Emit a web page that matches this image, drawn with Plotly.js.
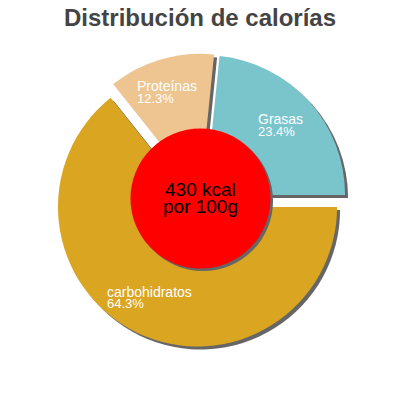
<!DOCTYPE html>
<html>
<head>
<meta charset="utf-8">
<script src="https://cdn.plot.ly/plotly-3.0.1.min.js"></script>
<style>
html,body{margin:0;padding:0;background:#fff;}
#chart{width:400px;height:400px;}
</style>
</head>
<body>
<div id="chart"></div>
<script>
// ---- data ----
const titleText = 'Distribución de calorías';
const labels = ['Grasas', 'carbohidratos', 'Proteínas'];
const percents = [23.4, 64.3, 12.3];
const kcalValue = 430;
const centerLines = [kcalValue + ' kcal', 'por 100g'];

// ---- styling ----
const sliceColors = ['#7AC4CC', '#DAA520', '#EEC591'];
const shadowColor = '#666666';
const pulls = [0.038, 0.067, 0.039];
const W = 400, H = 400;
const px = v => v / W;
const py = v => 1 - v / H;

// main pie geometry (pixels)
const pieCx = 201.6, pieCy = 198.5, pieHalf = 148.9;
const shadowOff = 3;
const dom = (cx, cy, h) => ({x: [px(cx - h), px(cx + h)], y: [py(cy + h), py(cy - h)]});

const common = {
  type: 'pie', values: percents, labels: labels, sort: false,
  direction: 'clockwise', rotation: 5.76, pull: pulls,
  textinfo: 'none', hoverinfo: 'skip', showlegend: false
};

const shadowPie = Object.assign({}, common, {
  domain: dom(pieCx + shadowOff, pieCy + shadowOff, pieHalf),
  marker: {colors: labels.map(() => shadowColor), line: {width: 0}}
});
const mainPie = Object.assign({}, common, {
  domain: dom(pieCx, pieCy, pieHalf),
  marker: {colors: sliceColors, line: {width: 0}}
});

const cCx = 200.5, cCy = 198.5, cR = 70;
const circleShadow = {
  type: 'pie', values: [kcalValue], labels: ['kcal'], sort: false,
  textinfo: 'none', hoverinfo: 'skip', showlegend: false,
  domain: dom(cCx + 2.5, cCy + 2.5, cR),
  marker: {colors: [shadowColor], line: {width: 0}}
};
const circle = {
  type: 'pie', values: [kcalValue], labels: ['kcal '], sort: false,
  textinfo: 'none', hoverinfo: 'skip', showlegend: false,
  domain: dom(cCx, cCy, cR),
  marker: {colors: ['#FF0000'], line: {width: 0}}
};

// label positions (pixels): name line center, percent line center
const labelPos = [
  {x: 257, yName: 119.1, yPct: 131},
  {x: 105.5, yName: 292.4, yPct: 303.8},
  {x: 135.5, yName: 86.1, yPct: 98.2}
];
const fontFam = 'Liberation Sans, Arial, sans-serif';
const annotations = [];
labels.forEach((lab, i) => {
  const p = labelPos[i];
  annotations.push({
    text: lab, x: px(p.x), y: py(p.yName), xref: 'paper', yref: 'paper',
    xanchor: 'left', yanchor: 'middle', showarrow: false, borderpad: 0,
    font: {family: fontFam, size: 14, color: '#FFFFFF'}
  });
  annotations.push({
    text: percents[i].toFixed(1) + '%', x: px(p.x), y: py(p.yPct), xref: 'paper', yref: 'paper',
    xanchor: 'left', yanchor: 'middle', showarrow: false, borderpad: 0,
    font: {family: fontFam, size: 13, color: '#FFFFFF'}
  });
});
const centerY = [189.4, 206.1];
centerLines.forEach((t, i) => {
  annotations.push({
    text: t, x: px(cCx), y: py(centerY[i]), xref: 'paper', yref: 'paper',
    xanchor: 'center', yanchor: 'middle', showarrow: false, borderpad: 0,
    font: {family: fontFam, size: 19, color: '#000000'}
  });
});

const layout = {
  width: W, height: H,
  margin: {l: 0, r: 0, t: 0, b: 0},
  paper_bgcolor: '#FFFFFF',
  title: {
    text: '<b>' + titleText + '</b>',
    x: 0.5, xanchor: 'center', xref: 'paper',
    y: py(17.7), yanchor: 'middle', yref: 'container',
    font: {family: fontFam, size: 24, color: '#444444'}
  },
  annotations: annotations,
  hovermode: false
};

Plotly.newPlot('chart', [shadowPie, mainPie, circleShadow, circle], layout, {displayModeBar: false, staticPlot: true});
</script>
</body>
</html>
